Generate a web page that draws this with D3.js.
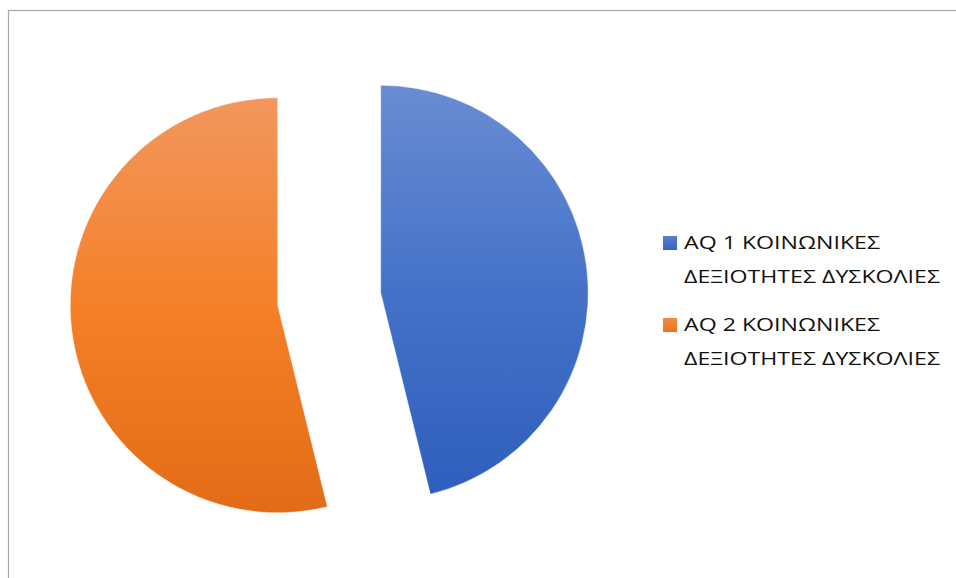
<!DOCTYPE html>
<html><head><meta charset="utf-8">
<script src="https://cdn.jsdelivr.net/npm/d3@7"></script>
<style>html,body{margin:0;padding:0;background:#fff;}svg{display:block;}</style>
</head><body>
<svg id="chart" width="956" height="578"></svg>
<script>
const categories = ["ΑQ 1 ΚΟΙΝΩΝΙΚΕΣ ΔΕΞΙΟΤΗΤΕΣ ΔΥΣΚΟΛΙΕΣ", "ΑQ 2 ΚΟΙΝΩΝΙΚΕΣ ΔΕΞΙΟΤΗΤΕΣ ΔΥΣΚΟΛΙΕΣ"];
const legendLines = [["ΑQ 1 ΚΟΙΝΩΝΙΚΕΣ", "ΔΕΞΙΟΤΗΤΕΣ ΔΥΣΚΟΛΙΕΣ"], ["ΑQ 2 ΚΟΙΝΩΝΙΚΕΣ", "ΔΕΞΙΟΤΗΤΕΣ ΔΥΣΚΟΛΙΕΣ"]];
const values = [12, 14];

const svg = d3.select("#chart");
const W = 956, H = 578;

// frame border
svg.append("rect").attr("x", 8.5).attr("y", 10.5).attr("width", W).attr("height", H)
  .attr("fill", "none").attr("stroke", "#a6a6a6").attr("stroke-width", 1.2);

const cx = 329.2, cy = 299, r = 207.5, explode = 0.25 * r;

const defs = svg.append("defs");
const grads = [
  {id: "gBlue", stops: [["0%", "#6a8cd2"], ["50%", "#4472c8"], ["100%", "#2e5dbd"]]},
  {id: "gOrange", stops: [["0%", "#f2975f"], ["50%", "#f58028"], ["100%", "#e36b17"]]}
];
grads.forEach(g => {
  const lg = defs.append("linearGradient").attr("id", g.id)
    .attr("gradientUnits", "userSpaceOnUse")
    .attr("x1", 0).attr("y1", -r - 2).attr("x2", 0).attr("y2", r + 2);
  g.stops.forEach(s => lg.append("stop").attr("offset", s[0]).attr("stop-color", s[1]));
});
const legGrads = [
  {id: "lBlue", stops: [["0%", "#5a80cc"], ["100%", "#3865c0"]]},
  {id: "lOrange", stops: [["0%", "#f38a45"], ["100%", "#ea731f"]]}
];
legGrads.forEach(g => {
  const lg = defs.append("linearGradient").attr("id", g.id)
    .attr("x1", 0).attr("y1", 0).attr("x2", 0).attr("y2", 1);
  g.stops.forEach(s => lg.append("stop").attr("offset", s[0]).attr("stop-color", s[1]));
});

const color = d3.scaleOrdinal().domain(categories).range(["url(#gBlue)", "url(#gOrange)"]);
const legColor = d3.scaleOrdinal().domain(categories).range(["url(#lBlue)", "url(#lOrange)"]);

const pie = d3.pie().sort(null).value(d => d.v);
const arcs = pie(categories.map((c, i) => ({c, v: values[i]})));
const arc = d3.arc().innerRadius(0).outerRadius(r);

const g = svg.append("g");
g.selectAll("path").data(arcs).join("path")
  .attr("d", arc)
  .attr("fill", d => color(d.data.c))
  .attr("stroke", "rgba(255,255,255,0.6)").attr("stroke-width", 0.8)
  .attr("transform", d => {
    const a = (d.startAngle + d.endAngle) / 2;
    const x = cx + Math.sin(a) * explode, y = cy - Math.cos(a) * explode;
    return `translate(${x},${y})`;
  });

// legend
const legend = svg.append("g");
const legendY0 = 249, entryStep = 82, lineStep = 34;
const fs = 19;
categories.forEach((c, i) => {
  const y = legendY0 + i * entryStep;
  legend.append("rect").attr("x", 663).attr("y", y - 13).attr("width", 14).attr("height", 14)
    .attr("fill", legColor(c));
  legendLines[i].forEach((t, j) => {
    legend.append("text").attr("x", 684).attr("y", y + j * lineStep)
      .attr("font-family", "'Open Sans', 'Noto Sans', sans-serif")
      .attr("font-size", fs).attr("fill", "#111").text(t);
  });
});
// squeeze widths to match the narrower reference face (~256px for line 2)
let k = 1;
legend.selectAll("text").each(function() {
  if (d3.select(this).text().startsWith("ΔΕΞ")) k = 256 / this.getComputedTextLength();
});
legend.selectAll("text").each(function() {
  const w = this.getComputedTextLength();
  d3.select(this).attr("textLength", w * k).attr("lengthAdjust", "spacingAndGlyphs");
});
</script>
</body></html>
